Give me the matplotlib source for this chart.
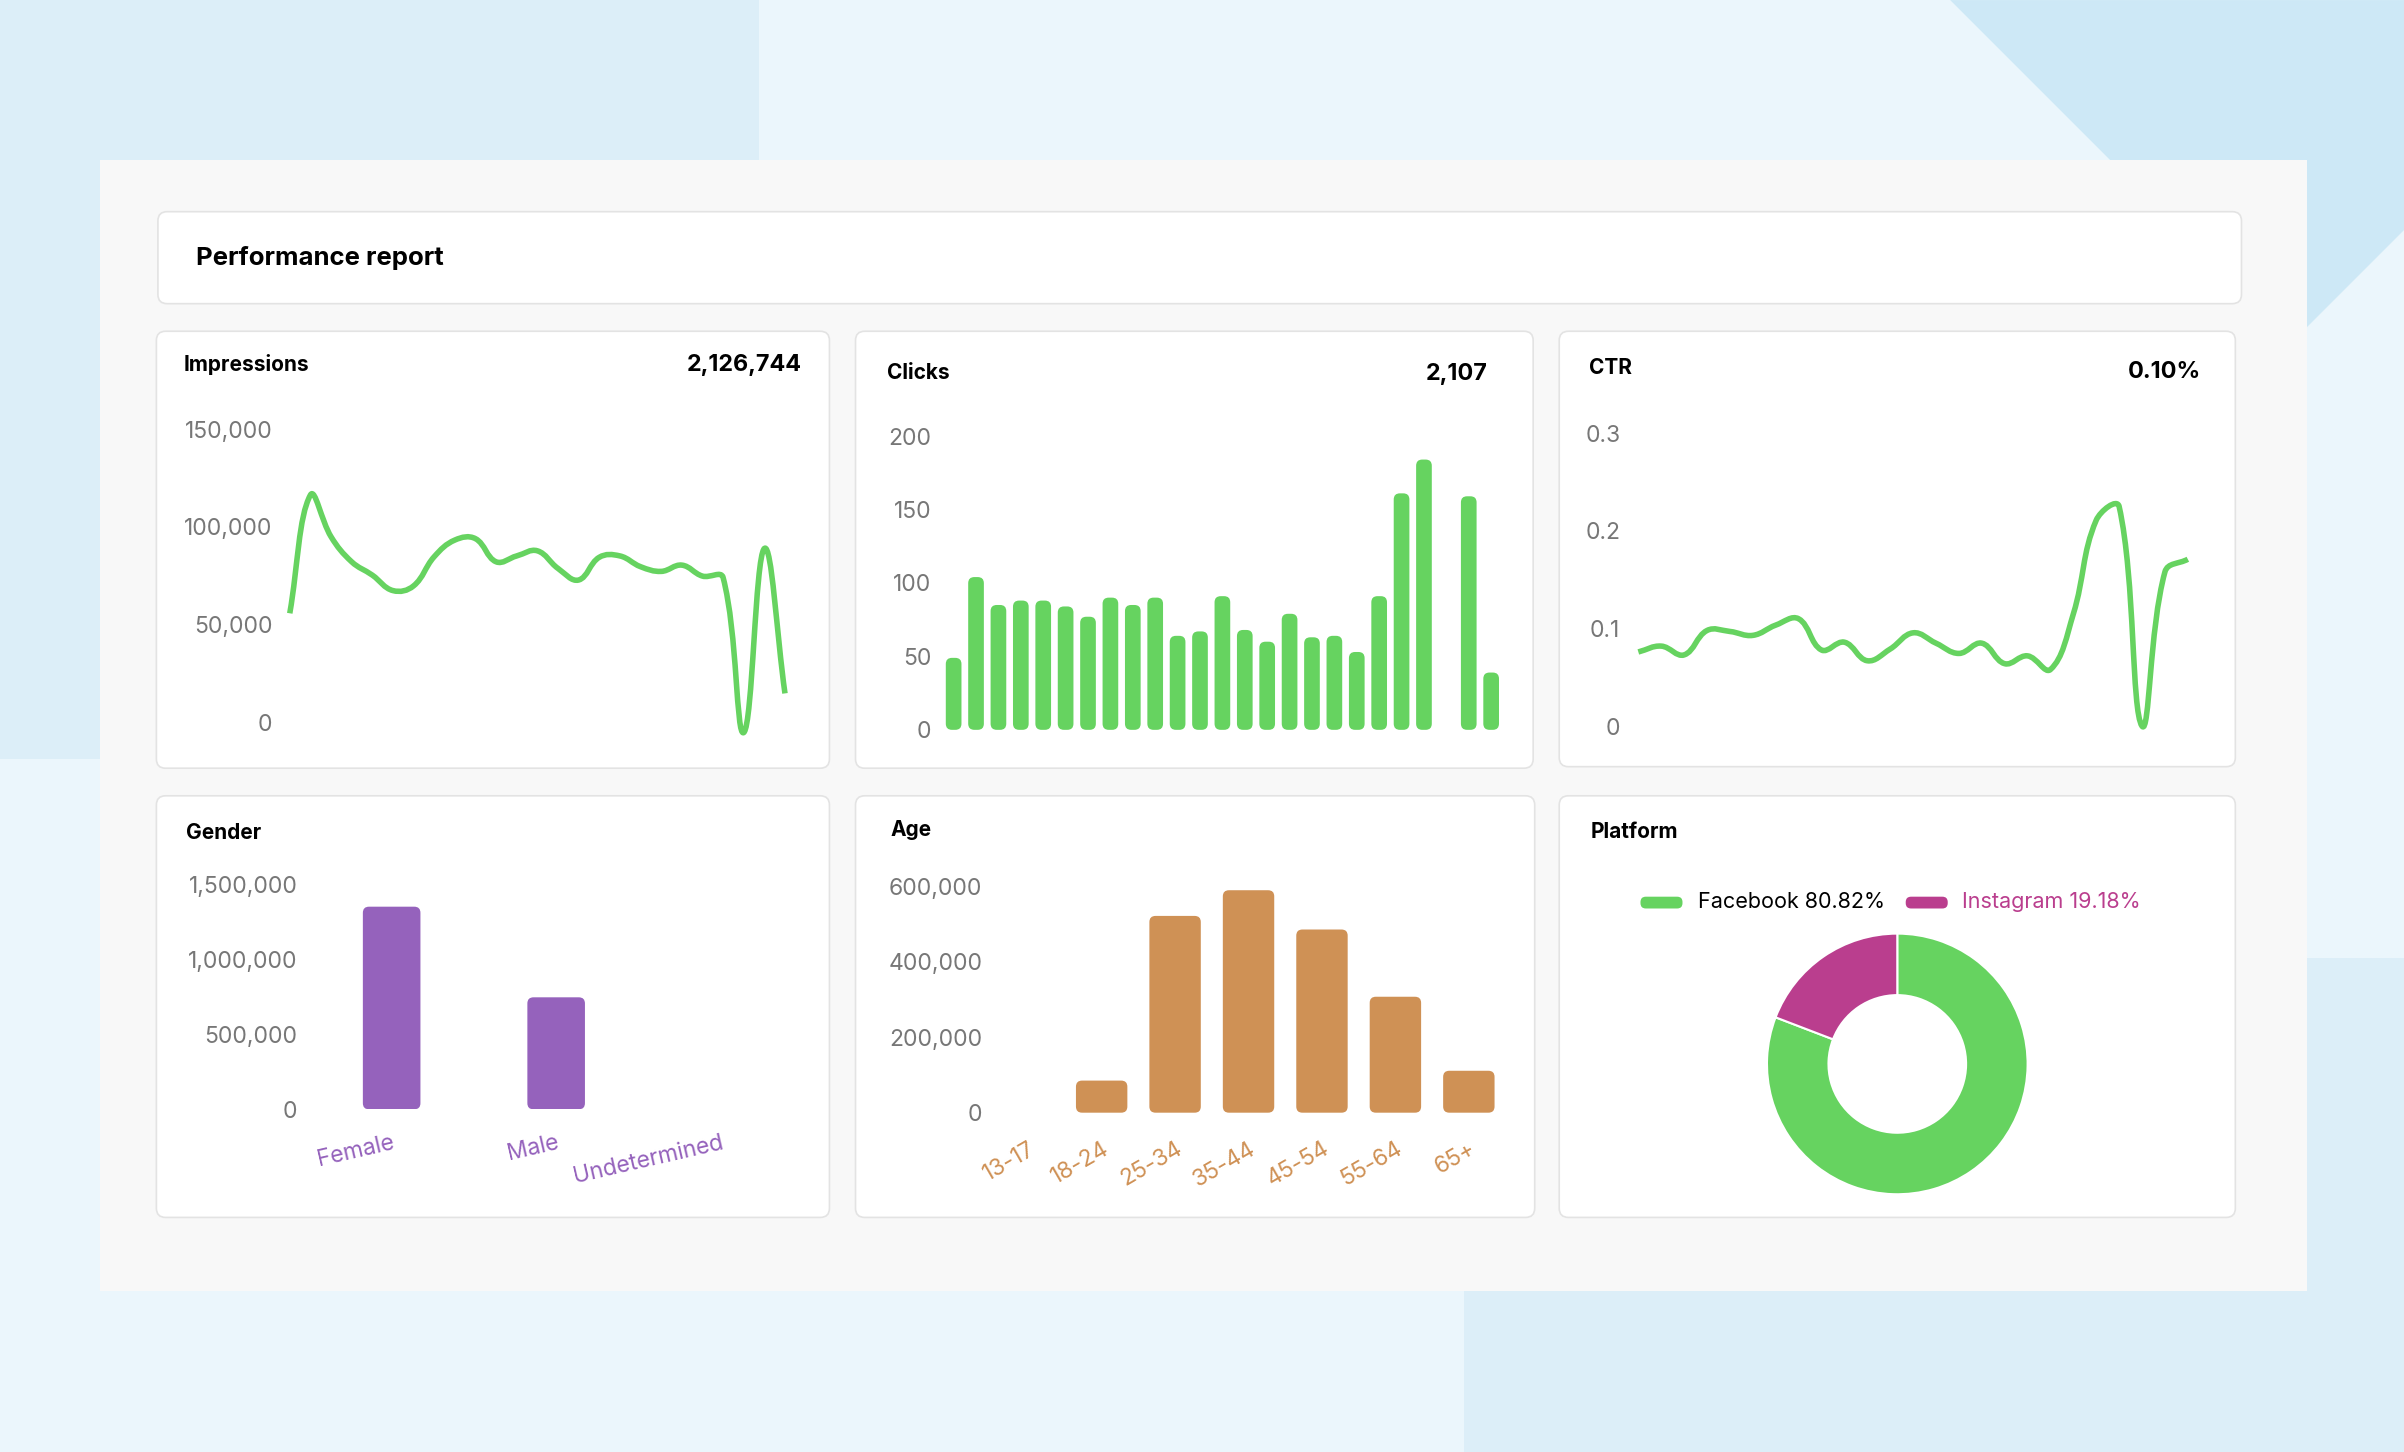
import numpy as np
import matplotlib
matplotlib.use('Agg')
import matplotlib.pyplot as plt
from matplotlib.patches import FancyBboxPatch, Polygon, PathPatch
from matplotlib.path import Path
from matplotlib.ticker import FuncFormatter

plt.rcParams['font.family'] = ['Inter', 'DejaVu Sans']

# ---- data ----
days = np.arange(25)
impressions = [55900, 116300, 95000, 82200, 75400, 67500, 69900, 84800, 93300, 94000,
               82200, 85200, 87800, 78800, 72900, 84500, 85200, 79700, 77300, 80500,
               74900, 74200, -5000, 89000, 15000]
clicks = [49, 104, 85, 88, 88, 84, 77, 90, 85, 90, 64, 67, 91, 68, 60, 79, 63, 64, 53, 91,
          161, 184, 0, 159, 39]
ctr = [0.076, 0.082, 0.073, 0.098, 0.097, 0.093, 0.1035, 0.110, 0.078, 0.086, 0.067, 0.079,
       0.0956, 0.085, 0.0745, 0.085, 0.064, 0.072, 0.058, 0.115, 0.211, 0.225, 0.0, 0.158, 0.171]

gender_labels = ['Female', 'Male', 'Undetermined']
gender_values = [1355000, 749000, 0]

age_labels = ['13-17', '18-24', '25-34', '35-44', '45-54', '55-64', '65+']
age_values = [0, 85000, 521000, 589000, 485000, 307000, 111000]

platform_labels = ['Facebook', 'Instagram']
platform_share = [80.82, 19.18]

total_impressions = '2,126,744'
total_clicks = '2,107'
avg_ctr = '0.10%'

GREEN = '#66D360'
PURPLE = '#9562BC'
ORANGE = '#CF9155'
MAGENTA = '#BA3E8E'
TICK = '#777777'
BORDER = '#E3E3E3'

# layout units follow a 1568 x 947 canvas, scaled to 2404 x 1452 px
W, H = 1568, 947
fig = plt.figure(figsize=(24.04, 14.52), dpi=100)
fig.patch.set_facecolor('#EBF6FC')
S = 24.04 / W      # inches per unit
PX = S * 100       # pixels per unit


def box(x0, y0, x1, y1, fc, ec='none', lw=0, r=0, z=-5):
    style = 'round,pad=0,rounding_size=%f' % (r * S) if r else 'square,pad=0'
    fig.add_artist(FancyBboxPatch((x0 * S, (H - y1) * S), (x1 - x0) * S, (y1 - y0) * S,
                                  boxstyle=style, transform=fig.dpi_scale_trans,
                                  fc=fc, ec=ec, lw=lw, zorder=z))


def poly(pts, fc, z=-9):
    fig.add_artist(Polygon([(x * S, (H - y) * S) for x, y in pts], closed=True,
                           transform=fig.dpi_scale_trans, fc=fc, ec='none', zorder=z))


def add_ax(x0, y0, x1, y1, pad):
    ax = fig.add_axes([x0 / W, 1 - y1 / H, (x1 - x0) / W, (y1 - y0) / H])
    ax.set_facecolor('none')
    for s in ax.spines.values():
        s.set_visible(False)
    ax.tick_params(length=0, labelsize=16.5, labelcolor=TICK)
    ax.tick_params(axis='y', pad=pad)
    return ax


def label(x, y, s, size, ha='left', color='black', weight='bold'):
    fig.text(x / W, 1 - y / H, s, ha=ha, va='center', fontsize=size,
             color=color, fontweight=weight)


def smooth_line(ax, x, y, color, lw, tension=0.4):
    # bezier through the points, control points like a chart.js tension curve
    pts = ax.transData.transform(np.column_stack([x, y]))
    n = len(pts)
    cin, cout = [], []
    for i in range(n):
        p0, p1, p2 = pts[max(i - 1, 0)], pts[i], pts[min(i + 1, n - 1)]
        d01 = np.hypot(*(p1 - p0))
        d12 = np.hypot(*(p2 - p1))
        tot = d01 + d12
        s01 = d01 / tot if tot else 0
        s12 = d12 / tot if tot else 0
        cin.append(p1 - tension * s01 * (p2 - p0))
        cout.append(p1 + tension * s12 * (p2 - p0))
    verts = [pts[0]]
    codes = [Path.MOVETO]
    for i in range(n - 1):
        verts += [cout[i], cin[i + 1], pts[i + 1]]
        codes += [Path.CURVE4] * 3
    verts = ax.transData.inverted().transform(np.array(verts))
    ax.add_patch(PathPatch(Path(verts, codes), fc='none', ec=color, lw=lw,
                           capstyle='butt', joinstyle='round', clip_on=False))


def round_bars(ax, bars, r):
    inv = ax.transData.inverted()
    (ax0, ay0), (ax1, ay1) = inv.transform([(0, 0), (r * PX, r * PX)])
    rx, ry = ax1 - ax0, ay1 - ay0
    for b in bars:
        x, y = b.get_xy()
        w, h = b.get_width(), b.get_height()
        fc = b.get_facecolor()
        b.remove()
        if h <= 0:
            continue
        ax.add_patch(FancyBboxPatch((x, y), w, h,
                                    boxstyle='round,pad=0,rounding_size=%f' % min(rx, w / 2, h / ry * rx / 2),
                                    mutation_aspect=ry / rx, fc=fc, ec='none'))


comma = FuncFormatter(lambda v, p: '{:,.0f}'.format(v))

# ---- background ----
poly([(0, 0), (495, 0), (495, 495), (0, 495)], '#DCEEF8')
poly([(1272, 0), (1568, 0), (1568, 150), (1495, 223)], '#CDE8F6')
poly([(955, 625), (1568, 625), (1568, 947), (955, 947)], '#DCEEF8')
box(65, 104, 1505, 842, '#F8F8F8', z=-8)

box(103, 138, 1462, 198, 'white', BORDER, 1.2, r=6)
label(128, 168, 'Performance report', 18.5)

panels = [(102, 216, 541, 501), (558, 216, 1000, 501), (1017, 216, 1458, 500),
          (102, 519, 541, 794), (558, 519, 1001, 794), (1017, 519, 1458, 794)]
for p in panels:
    box(*p, 'white', BORDER, 1.2, r=6)

# ---- impressions ----
label(119.5, 238, 'Impressions', 15)
label(523, 238, total_impressions, 16.8, ha='right')
ax = add_ax(189, 279.8, 512, 471.4, pad=12.5)
ax.set_xlim(0, 24)
ax.set_ylim(0, 150000)
ax.set_xticks([])
ax.set_yticks([0, 50000, 100000, 150000])
ax.yaxis.set_major_formatter(comma)
smooth_line(ax, days, impressions, GREEN, 4)

# ---- clicks ----
label(578.5, 243, 'Clicks', 15)
label(970.5, 244, total_clicks, 16.8, ha='right')
ax = add_ax(614.7, 284.4, 979.9, 476, pad=8)
ax.set_xlim(-0.5, 24.5)
ax.set_ylim(0, 200)
ax.set_xticks([])
ax.set_yticks([0, 50, 100, 150, 200])
bars = ax.bar(days, clicks, width=0.7, color=GREEN)
round_bars(ax, bars, 4)

# ---- ctr ----
label(1036.5, 240, 'CTR', 15)
label(1435.5, 242.5, avg_ctr, 16.8, ha='right')
ax = add_ax(1068.6, 282.6, 1427, 473.6, pad=13)
ax.set_xlim(0, 24)
ax.set_ylim(0, 0.3)
ax.set_xticks([])
ax.set_yticks([0, 0.1, 0.2, 0.3])
ax.yaxis.set_major_formatter(FuncFormatter(lambda v, p: '%g' % round(v, 2)))
smooth_line(ax, days, ctr, GREEN, 4)

# ---- gender ----
label(121, 543.5, 'Gender', 15)
ax = add_ax(201.8, 577.2, 523.7, 723.5, pad=8.5)
ax.set_xlim(-0.5, 2.5)
ax.set_ylim(0, 1500000)
ax.set_yticks([0, 500000, 1000000, 1500000])
ax.yaxis.set_major_formatter(comma)
bars = ax.bar(range(3), gender_values, width=0.35, color=PURPLE)
ax.set_xticks(range(3), gender_labels)
ax.tick_params(axis='x', labelcolor=PURPLE, pad=16)
for t in ax.get_xticklabels():
    t.set_rotation(13)
    t.set_ha('right')
    t.set_rotation_mode('anchor')
round_bars(ax, bars, 4)

# ---- age ----
label(580.5, 541.5, 'Age', 15)
ax = add_ax(646.7, 577.9, 982, 725.7, pad=6.5)
ax.set_xlim(-0.5, 6.5)
ax.set_ylim(0, 600000)
ax.set_yticks([0, 200000, 400000, 600000])
ax.yaxis.set_major_formatter(comma)
bars = ax.bar(range(7), age_values, width=0.7, color=ORANGE)
ax.set_xticks(range(7), age_labels)
ax.tick_params(axis='x', labelcolor=ORANGE, pad=18)
for t in ax.get_xticklabels():
    t.set_rotation(30)
    t.set_ha('right')
    t.set_rotation_mode('anchor')
round_bars(ax, bars, 4)

# ---- platform ----
label(1037.4, 542.5, 'Platform', 15)
ax = fig.add_axes([1152.5 / W, 1 - 778.9 / H, 170 / W, 170 / H])
ax.pie(platform_share, colors=[GREEN, MAGENTA], startangle=90, counterclock=False,
       wedgeprops=dict(width=0.472, edgecolor='white', linewidth=1.5))
ax.set_xlim(-1, 1)
ax.set_ylim(-1, 1)
ax.set_aspect('equal')
ax.axis('off')

legend_pos = [(1070, 1107.2), (1243, 1279.8)]
legend_txt = ['black', MAGENTA]
for (sx, tx), name, share, col, tc in zip(legend_pos, platform_labels, platform_share,
                                          [GREEN, MAGENTA], legend_txt):
    box(sx, 584.8, sx + 27.4, 592.5, col, r=3.5, z=2)
    label(tx, 588.1, '%s %.2f%%' % (name, share), 15.5, color=tc, weight='normal')

fig.savefig('out.png', dpi=100)
